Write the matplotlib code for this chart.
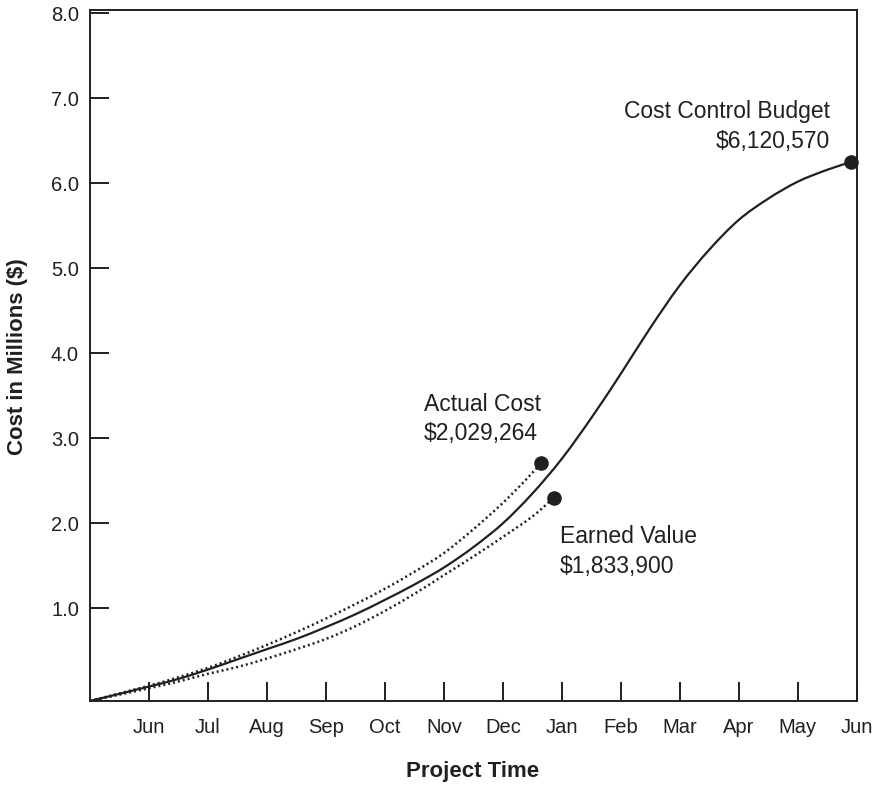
import matplotlib
matplotlib.use("Agg")
import matplotlib.pyplot as plt
import numpy as np
from matplotlib.path import Path
from matplotlib.patches import PathPatch

plt.rcParams['font.family'] = ['Liberation Sans', 'DejaVu Sans']

# ---- data ----
month_labels = ["Jun", "Jul", "Aug", "Sep", "Oct", "Nov", "Dec", "Jan",
                "Feb", "Mar", "Apr", "May", "Jun"]
y_tick_values = [1, 2, 3, 4, 5, 6, 7, 8]
y_tick_labels = ["1.0", "2.0", "3.0", "4.0", "5.0", "6.0", "7.0", "8.0"]

budget_t = [0, 1, 1.5, 2, 2.5, 3, 3.5, 4, 4.5, 5, 5.5, 6, 6.5, 7, 7.5, 8,
            8.5, 9, 9.5, 10, 10.5, 11, 11.5, 12, 12.5, 12.9]
budget_v = [-0.09, 0.08, 0.17, 0.28, 0.40, 0.52, 0.64, 0.78, 0.93, 1.10,
            1.28, 1.48, 1.72, 2.00, 2.35, 2.76, 3.24, 3.76, 4.30, 4.80,
            5.22, 5.57, 5.82, 6.02, 6.16, 6.25]

actual_t = [0, 1, 1.5, 2, 2.5, 3, 3.5, 4, 4.5, 5, 5.5, 6, 6.5, 7, 7.4, 7.65]
actual_v = [-0.09, 0.09, 0.19, 0.30, 0.43, 0.57, 0.72, 0.88, 1.05, 1.23,
            1.43, 1.65, 1.93, 2.24, 2.52, 2.71]

earned_t = [0, 1, 1.5, 2, 2.5, 3, 3.5, 4, 4.5, 5, 5.5, 6, 6.5, 7, 7.5, 7.86]
earned_v = [-0.09, 0.06, 0.14, 0.23, 0.31, 0.41, 0.52, 0.64, 0.79, 0.97,
            1.17, 1.39, 1.61, 1.84, 2.08, 2.30]

budget_label = ["Cost Control Budget", "$6,120,570"]
actual_label = ["Actual Cost", "$2,029,264"]
earned_label = ["Earned Value", "$1,833,900"]

ink = "#231f20"


def smooth_path(xs, ys):
    """Catmull-Rom through the data points, drawn as cubic Bezier segments."""
    p = np.column_stack([xs, ys]).astype(float)
    verts = [p[0]]
    codes = [Path.MOVETO]
    n = len(p)
    for i in range(n - 1):
        p0 = p[i - 1] if i > 0 else p[i]
        p1 = p[i]
        p2 = p[i + 1]
        p3 = p[i + 2] if i + 2 < n else p[i + 1]
        c1 = p1 + (p2 - p0) / 6.0
        c2 = p2 - (p3 - p1) / 6.0
        verts += [c1, c2, p2]
        codes += [Path.CURVE4] * 3
    return Path(verts, codes)


fig = plt.figure(figsize=(8.75, 7.87), dpi=100)
ax = fig.add_axes([90/875, 86/787, 766.7/875, 691/787])

ax.add_patch(PathPatch(smooth_path(budget_t, budget_v), fill=False,
                       edgecolor=ink, lw=1.6))
ax.add_patch(PathPatch(smooth_path(actual_t, actual_v), fill=False,
                       edgecolor=ink, lw=1.8, linestyle=(0, (0.8, 1.2))))
ax.add_patch(PathPatch(smooth_path(earned_t, earned_v), fill=False,
                       edgecolor=ink, lw=1.8, linestyle=(0, (0.8, 1.2))))

ax.plot(budget_t[-1], budget_v[-1], 'o', color=ink, ms=9.5, clip_on=False)
ax.plot(actual_t[-1], actual_v[-1], 'o', color=ink, ms=9.5)
ax.plot(earned_t[-1], earned_v[-1], 'o', color=ink, ms=9.5)

ax.set_xlim(0, 13)
ax.set_ylim(-0.09, 8.04)

ax.set_xticks(range(1, 14))
ax.set_xticklabels(month_labels)
ax.set_yticks(y_tick_values)
ax.set_yticklabels(y_tick_labels)

ax.tick_params(axis='x', direction='in', length=14, width=1.4, pad=12,
               labelsize=14.5, colors=ink)
ax.tick_params(axis='y', direction='in', length=14, width=1.4, pad=8,
               labelsize=14.5, colors=ink)
for s in ax.spines.values():
    s.set_linewidth(1.4)
    s.set_color(ink)

fs = 16.5
ax.text(12.55, 6.84, budget_label[0], ha='right', va='center', fontsize=fs, color=ink)
ax.text(12.55, 6.49, budget_label[1], ha='right', va='center', fontsize=fs, color=ink)
ax.text(5.66, 3.40, actual_label[0], ha='left', va='center', fontsize=fs, color=ink)
ax.text(5.66, 3.06, actual_label[1], ha='left', va='center', fontsize=fs, color=ink)
ax.text(7.97, 1.85, earned_label[0], ha='left', va='center', fontsize=fs, color=ink)
ax.text(7.97, 1.49, earned_label[1], ha='left', va='center', fontsize=fs, color=ink)

fig.text(473/875, 1 - 772/787, "Project Time", ha='center', va='center',
         fontsize=16, fontweight='bold', color=ink)
fig.text(18/875, 1 - 357/787, "Cost in Millions ($)", ha='center', va='center',
         rotation=90, fontsize=16, fontweight='bold', color=ink)

fig.savefig("out.png", dpi=100)
